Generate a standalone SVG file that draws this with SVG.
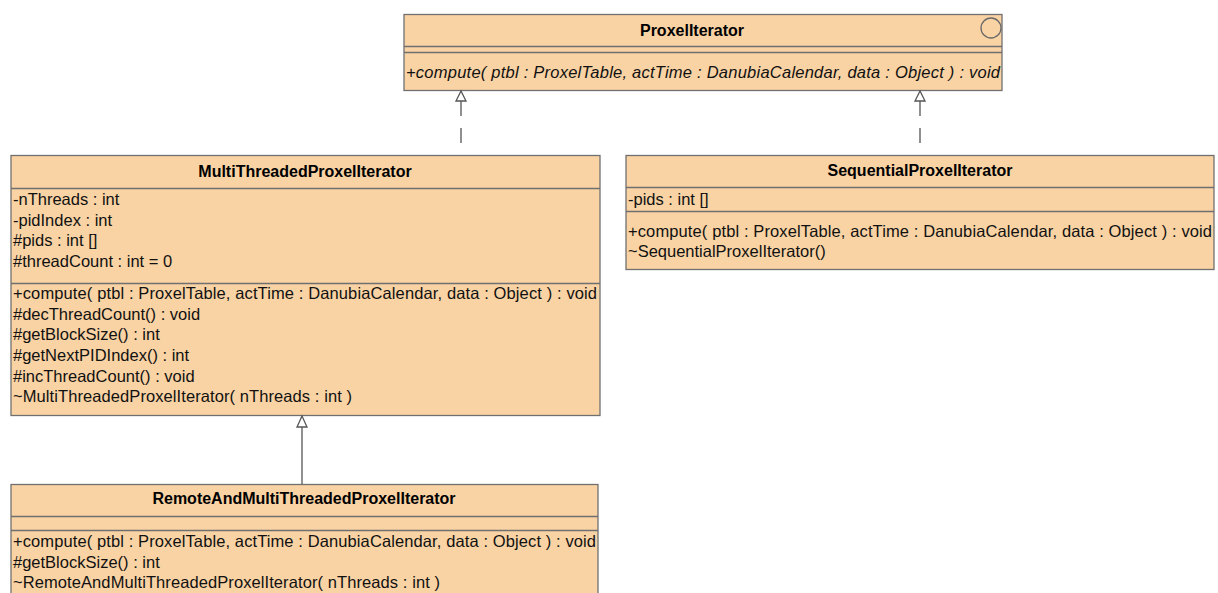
<svg xmlns="http://www.w3.org/2000/svg" width="1218" height="593" viewBox="0 0 1218 593">
  <style>
    .box { fill: #F9D3A4; stroke: #707070; stroke-width: 1.3; }
    .sep { stroke: #707070; stroke-width: 1.3; fill: none; }
    .title { font-family: "Liberation Sans", Arial, sans-serif; font-size: 16px; font-weight: bold; fill: #000; text-anchor: middle; }
    .member { font-family: "Liberation Sans", Arial, sans-serif; font-size: 16.5px; fill: #111; }
    .abstract { font-style: italic; }
    .edge { stroke: #555; stroke-width: 1.3; fill: none; }
    .dashed { stroke-dasharray: 15 12; }
    .head { fill: #fff; stroke: #555; stroke-width: 1.3; }
  </style>

  <!-- interface ProxelIterator -->
  <g id="ProxelIterator">
    <rect class="box" x="404" y="14.5" width="598" height="76"/>
    <line class="sep" x1="404" y1="46.5" x2="1002" y2="46.5"/>
    <line class="sep" x1="404" y1="52.5" x2="1002" y2="52.5"/>
    <circle cx="991" cy="28" r="10" fill="none" stroke="#6a6a6a" stroke-width="1.3"/>
    <text class="title" x="692" y="36">ProxelIterator</text>
    <text class="member abstract" x="406" y="78" textLength="594" lengthAdjust="spacing">+compute( ptbl : ProxelTable, actTime : DanubiaCalendar, data : Object ) : void</text>
  </g>

  <!-- class MultiThreadedProxelIterator -->
  <g id="MultiThreadedProxelIterator">
    <rect class="box" x="11" y="155.5" width="589" height="260"/>
    <line class="sep" x1="11" y1="188.5" x2="600" y2="188.5"/>
    <line class="sep" x1="11" y1="283.5" x2="600" y2="283.5"/>
    <text class="title" x="305" y="177">MultiThreadedProxelIterator</text>
    <text class="member" x="13" y="205">-nThreads : int</text>
    <text class="member" x="13" y="225.7">-pidIndex : int</text>
    <text class="member" x="13" y="246.3">#pids : int []</text>
    <text class="member" x="13" y="267">#threadCount : int = 0</text>
    <text class="member" x="13" y="299" textLength="584" lengthAdjust="spacing">+compute( ptbl : ProxelTable, actTime : DanubiaCalendar, data : Object ) : void</text>
    <text class="member" x="13" y="319.7">#decThreadCount() : void</text>
    <text class="member" x="13" y="340.3">#getBlockSize() : int</text>
    <text class="member" x="13" y="361">#getNextPIDIndex() : int</text>
    <text class="member" x="13" y="381.7">#incThreadCount() : void</text>
    <text class="member" x="13" y="402.3" textLength="339" lengthAdjust="spacing">~MultiThreadedProxelIterator( nThreads : int )</text>
  </g>

  <!-- class SequentialProxelIterator -->
  <g id="SequentialProxelIterator">
    <rect class="box" x="626" y="155.5" width="588" height="114"/>
    <line class="sep" x1="626" y1="187.5" x2="1214" y2="187.5"/>
    <line class="sep" x1="626" y1="211.5" x2="1214" y2="211.5"/>
    <text class="title" x="920" y="176">SequentialProxelIterator</text>
    <text class="member" x="628" y="205">-pids : int []</text>
    <text class="member" x="628" y="237" textLength="584" lengthAdjust="spacing">+compute( ptbl : ProxelTable, actTime : DanubiaCalendar, data : Object ) : void</text>
    <text class="member" x="628" y="257">~SequentialProxelIterator()</text>
  </g>

  <!-- class RemoteAndMultiThreadedProxelIterator -->
  <g id="RemoteAndMultiThreadedProxelIterator">
    <rect class="box" x="11" y="484.5" width="587" height="120"/>
    <line class="sep" x1="11" y1="516.5" x2="598" y2="516.5"/>
    <line class="sep" x1="11" y1="530.5" x2="598" y2="530.5"/>
    <text class="title" x="304" y="504">RemoteAndMultiThreadedProxelIterator</text>
    <text class="member" x="13" y="547" textLength="583" lengthAdjust="spacing">+compute( ptbl : ProxelTable, actTime : DanubiaCalendar, data : Object ) : void</text>
    <text class="member" x="13" y="567.5">#getBlockSize() : int</text>
    <text class="member" x="13" y="588" textLength="427" lengthAdjust="spacing">~RemoteAndMultiThreadedProxelIterator( nThreads : int )</text>
  </g>

  <!-- generalisation / realisation connectors -->
  <g id="connectors">
    <line class="edge dashed" x1="461" y1="101" x2="461" y2="155"/>
    <polygon class="head" points="461,91 456,101 466,101"/>
    <line class="edge dashed" x1="920" y1="101" x2="920" y2="155"/>
    <polygon class="head" points="920,91 915,101 925,101"/>
    <line class="edge" x1="302" y1="427" x2="302" y2="484"/>
    <polygon class="head" points="302,416 297,427 307,427"/>
  </g>
</svg>
